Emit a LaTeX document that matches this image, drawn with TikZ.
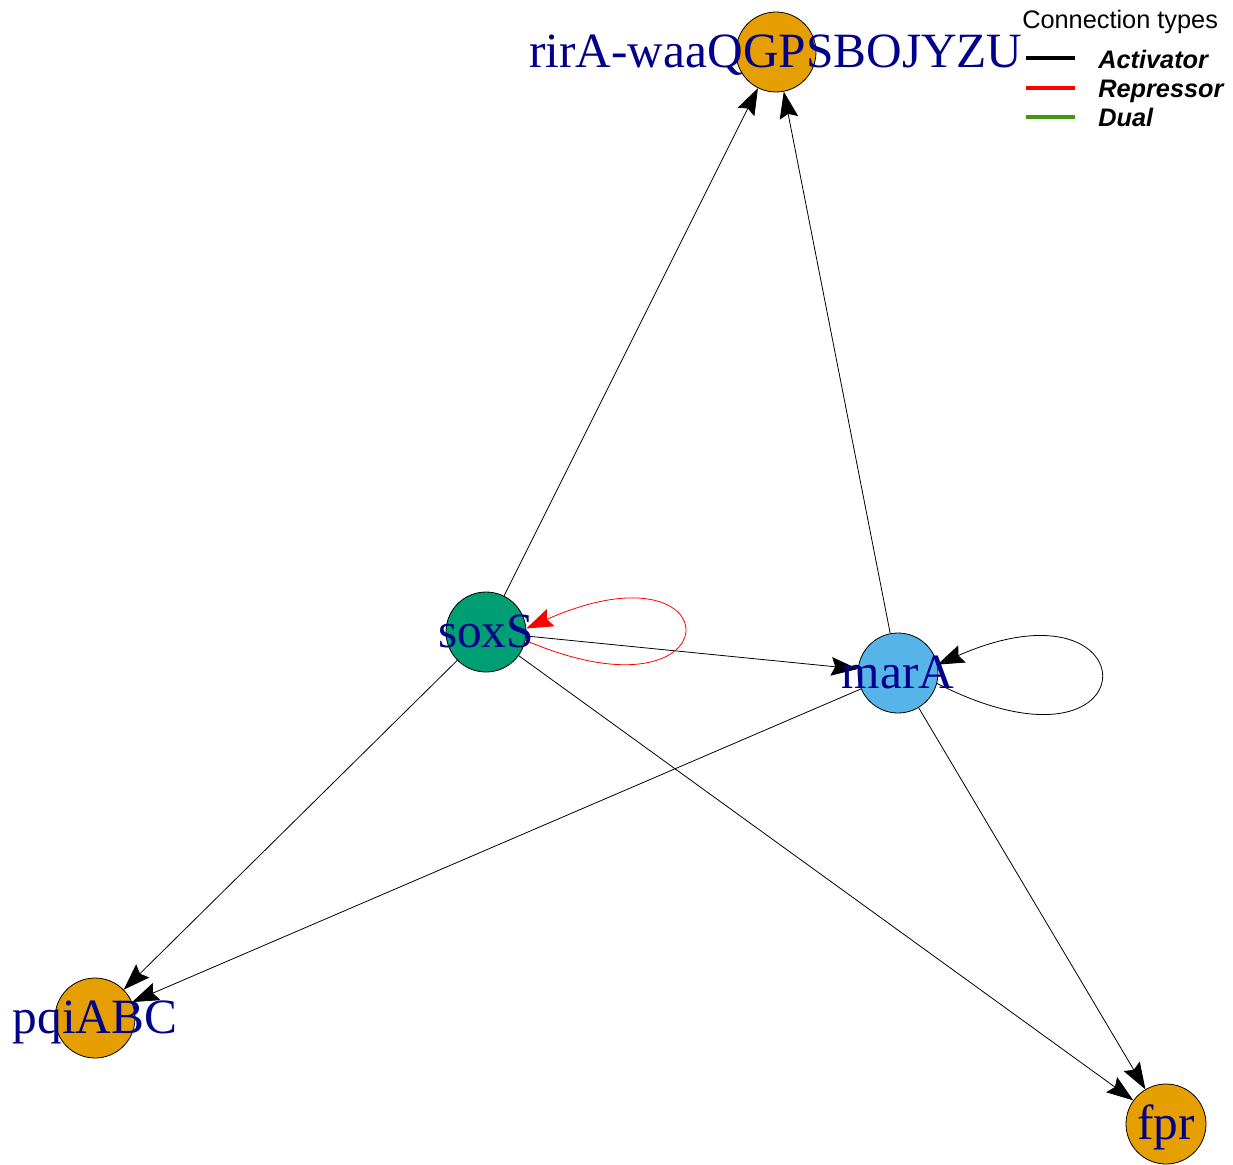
\documentclass[tikz,border=0pt]{standalone}
\usepackage{fontspec}
\setmainfont{Liberation Serif}
\newfontfamily\legendfont{Liberation Sans}
\usetikzlibrary{arrows.meta}
\definecolor{genelbl}{RGB}{0,0,139}
\definecolor{tgtorange}{HTML}{E69F00}
\definecolor{soxgreen}{HTML}{009E73}
\definecolor{marblue}{HTML}{56B4E9}
\definecolor{dualgreen}{RGB}{65,150,20}
\begin{document}
\begin{tikzpicture}[x=0.75pt,y=-0.75pt,
  gene/.style={circle,draw=black,line width=0.6pt,minimum size=60pt,inner sep=0pt},
  lbl/.style={text=genelbl,font=\fontsize{37}{40}\selectfont,inner sep=0pt,text height=23pt,text depth=0pt},
  act/.style={draw=black,line width=0.6pt,-{Stealth[length=20pt,width=14pt,inset=3pt]}},
  rep/.style={draw=red,line width=0.6pt,-{Stealth[length=20pt,width=14pt,inset=3pt]}},
  legline/.style={line width=2.8pt},
  keytxt/.style={anchor=west,inner sep=0pt,text height=13.7pt,text depth=0pt,font=\legendfont\bfseries\itshape\fontsize{19}{22}\selectfont}]
\useasboundingbox (0,0) rectangle (1233,1165);

\node[gene,fill=tgtorange] (rirA) at (776,52) {};
\node[gene,fill=soxgreen] (soxS) at (486,632) {};
\node[gene,fill=marblue] (marA) at (898,673) {};
\node[gene,fill=tgtorange] (pqiABC) at (95,1018) {};
\node[gene,fill=tgtorange] (fpr) at (1166,1124) {};

\draw[act] (soxS) -- (rirA);
\draw[act] (marA) -- (rirA);
\draw[act] (soxS) -- (marA);
\draw[act] (soxS) -- (pqiABC);
\draw[act] (marA) -- (pqiABC);
\draw[act] (soxS) -- (fpr);
\draw[act] (marA) -- (fpr);
\draw[rep] (soxS.-12) .. controls +(210,90) and +(210,-93) .. (soxS.5);
\draw[act] (marA.-15) .. controls +(217,110) and +(217,-95) .. (marA.12);

\node[lbl] (rirAlbl) at (rirA) {rirA-waaQGPSBOJYZU};
\node[lbl] (soxSlbl) at (soxS) {soxS};
\node[lbl] (marAlbl) at (marA) {marA};
\node[lbl] (pqiABClbl) at (pqiABC) {pqiABC};
\node[lbl] (fprlbl) at (fpr) {fpr};

% legend
\node[anchor=west,inner sep=0pt,text height=13.7pt,text depth=0pt,font=\legendfont\fontsize{19}{22}\selectfont] (keytitle) at (1022,19) {Connection types};
\draw[legline,black] (1026,58) -- (1075,58);
\draw[legline,red] (1026,88) -- (1075,88);
\draw[legline,dualgreen] (1026,117) -- (1075,117);
\node[keytxt] (keyact) at (1098,59) {Activator};
\node[keytxt] (keyrep) at (1098,88) {Repressor};
\node[keytxt] (keydual) at (1098,117) {Dual};
\end{tikzpicture}
\end{document}
